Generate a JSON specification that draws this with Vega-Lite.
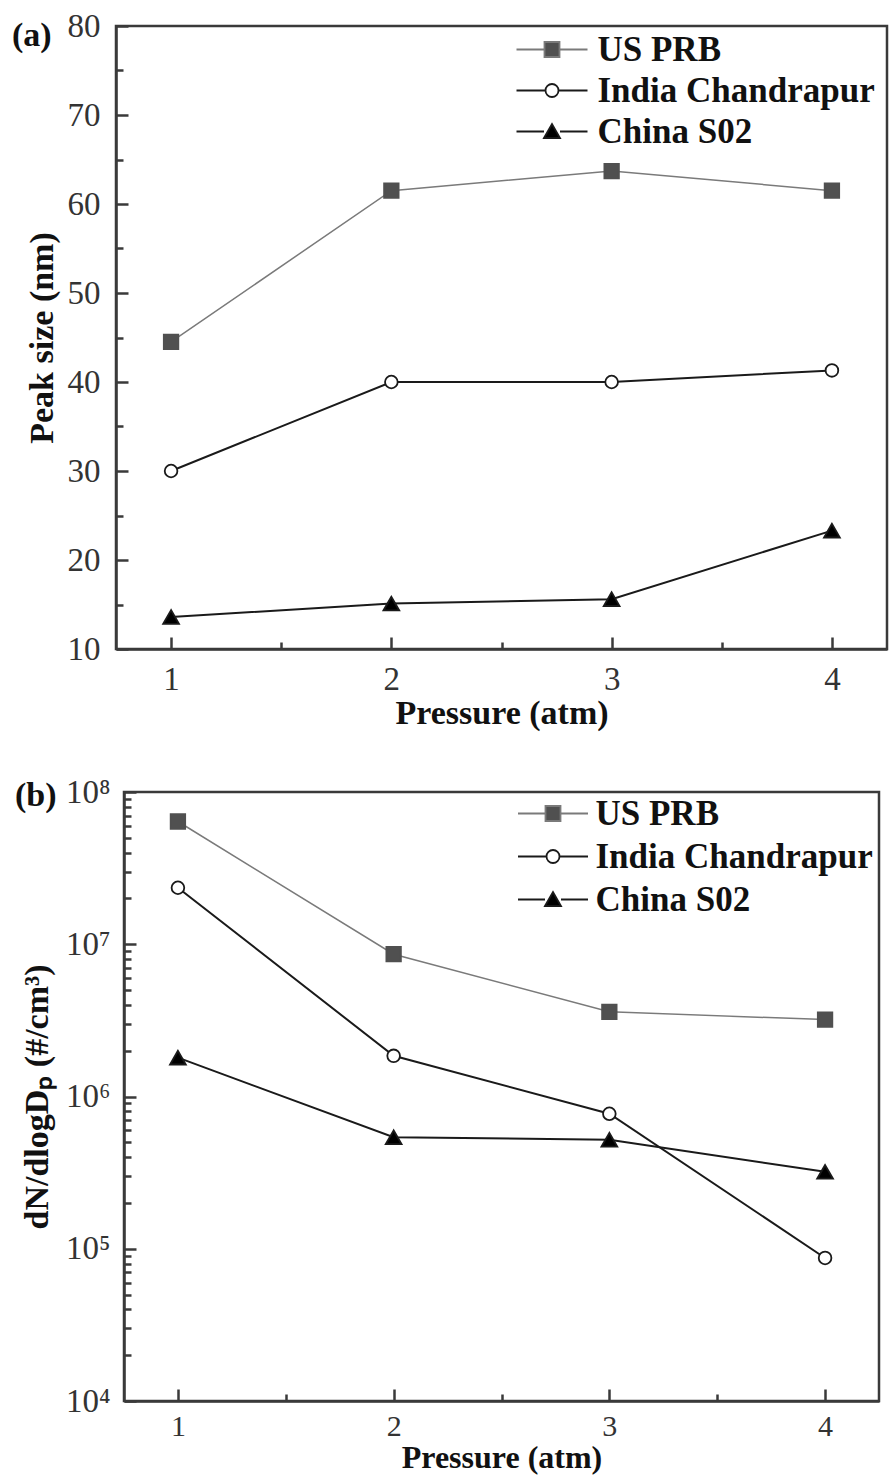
{
  "$schema": "https://vega.github.io/schema/vega-lite/v6.json",
  "background": "white",
  "padding": {"left": 10, "top": 8, "right": 0, "bottom": 0},
  "config": {
    "font": "Liberation Serif",
    "view": {"stroke": "#3a3a3a", "strokeWidth": 2.5},
    "axis": {
      "grid": false,
      "domainColor": "#3a3a3a",
      "domainWidth": 2.5,
      "tickColor": "#3a3a3a",
      "tickWidth": 2.5,
      "labelFont": "Liberation Serif",
      "labelFontSize": 33,
      "labelColor": "#333333",
      "labelFlush": false,
      "labelOverlap": false,
      "labelBound": false,
      "titleFont": "Liberation Serif",
      "titleFontSize": 34,
      "titleFontWeight": "bold",
      "titleColor": "#111111"
    },
    "legend": {
      "orient": "none", "padding": 0, "labelLimit": 0,
      "symbolSize": 400, "symbolOffset": 25.5, "symbolOpacity": 1, "symbolStrokeWidth": 1.8, "symbolFillColor": "black",
      "labelFont": "Liberation Serif", "labelFontSize": 35, "labelFontWeight": "bold", "labelColor": "#111111"
    },
    "title": {"font": "Liberation Serif", "fontSize": 34, "fontWeight": "bold", "color": "#111111"}
  },
  "datasets": {
    "peak": [
      {"series": "US PRB", "pressure": 1, "size": 44.5},
      {"series": "US PRB", "pressure": 2, "size": 61.5},
      {"series": "US PRB", "pressure": 3, "size": 63.7},
      {"series": "US PRB", "pressure": 4, "size": 61.5},
      {"series": "India Chandrapur", "pressure": 1, "size": 30.0},
      {"series": "India Chandrapur", "pressure": 2, "size": 40.0},
      {"series": "India Chandrapur", "pressure": 3, "size": 40.0},
      {"series": "India Chandrapur", "pressure": 4, "size": 41.3},
      {"series": "China S02", "pressure": 1, "size": 13.6},
      {"series": "China S02", "pressure": 2, "size": 15.1},
      {"series": "China S02", "pressure": 3, "size": 15.6},
      {"series": "China S02", "pressure": 4, "size": 23.3}
    ],
    "conc": [
      {"series": "US PRB", "pressure": 1, "conc": 64000000},
      {"series": "US PRB", "pressure": 2, "conc": 8600000},
      {"series": "US PRB", "pressure": 3, "conc": 3600000},
      {"series": "US PRB", "pressure": 4, "conc": 3200000},
      {"series": "India Chandrapur", "pressure": 1, "conc": 23500000},
      {"series": "India Chandrapur", "pressure": 2, "conc": 1850000},
      {"series": "India Chandrapur", "pressure": 3, "conc": 770000},
      {"series": "India Chandrapur", "pressure": 4, "conc": 87000},
      {"series": "China S02", "pressure": 1, "conc": 1800000},
      {"series": "China S02", "pressure": 2, "conc": 540000},
      {"series": "China S02", "pressure": 3, "conc": 520000},
      {"series": "China S02", "pressure": 4, "conc": 320000}
    ]
  },
  "spacing": 143,
  "center": true,
  "bounds": "flush",
  "resolve": {
    "scale": {"shape": "independent", "fill": "independent", "stroke": "independent"},
    "legend": {"shape": "independent", "fill": "independent", "stroke": "independent"}
  },
  "vconcat": [
    {
      "width": 771,
      "height": 623,
      "title": {"text": "(a)", "orient": "top", "anchor": "start", "frame": "group", "align": "left", "baseline": "alphabetic", "offset": 0, "dx": -104, "dy": 70},
      "data": {"name": "peak"},
      "layer": [
        {
          "mark": {"type": "point", "opacity": 0},
          "encoding": {
            "x": {"field": "pressure", "type": "quantitative", "scale": {"domain": [0.75, 4.25], "nice": false, "zero": false}, "axis": null},
            "y": {"field": "size", "type": "quantitative", "scale": {"domain": [10, 80], "nice": false, "zero": false}, "axis": null},
            "shape": {"field": "series", "type": "nominal",
                      "scale": {"domain": ["US PRB", "India Chandrapur", "China S02"], "range": ["M-3.55,0H-0.75M0.75,0H3.55M-0.75,-0.75H0.75V0.75H-0.75Z", "M-3.55,0H-0.65M0.65,0H3.55M-0.65,0A0.65,0.65 0 1,1 0.65,0A0.65,0.65 0 1,1 -0.65,0Z", "M-3.55,0H-0.8M0.8,0H3.55M-0.8,0.65L0,-0.75L0.8,0.65Z"]},
                      "legend": {"title": null, "legendX": 393, "legendY": 6, "labelOffset": 28, "rowPadding": 5}},
            "fill": {"field": "series", "type": "nominal",
                     "scale": {"domain": ["US PRB", "India Chandrapur", "China S02"], "range": ["#505050", "white", "black"]},
                     "legend": {"title": null, "legendX": 393, "legendY": 6, "labelOffset": 28, "rowPadding": 5}},
            "stroke": {"field": "series", "type": "nominal",
                       "scale": {"domain": ["US PRB", "India Chandrapur", "China S02"], "range": ["#7a7a7a", "#1a1a1a", "#1a1a1a"]},
                       "legend": {"title": null, "legendX": 393, "legendY": 6, "labelOffset": 28, "rowPadding": 5}}
          }
        },
        {
          "mark": {"type": "line"},
          "encoding": {
            "x": {"field": "pressure", "type": "quantitative",
                  "axis": {"orient": "bottom", "values": [1.5, 2.5, 3.5], "tickSize": -7, "labels": false, "domain": false, "title": null}},
            "y": {"field": "size", "type": "quantitative",
                  "axis": {"orient": "left", "values": [15, 25, 35, 45, 55, 65, 75], "tickSize": -7, "labels": false, "domain": false, "title": null}},
            "detail": {"field": "series"},
            "color": {"condition": {"test": "datum.series === 'US PRB'", "value": "#7a7a7a"}, "value": "#1a1a1a"},
            "strokeWidth": {"condition": {"test": "datum.series === 'US PRB'", "value": 1.5}, "value": 2}
          }
        },
        {
          "mark": {"type": "point", "opacity": 1, "strokeWidth": 1.8},
          "encoding": {
            "x": {"field": "pressure", "type": "quantitative",
                  "axis": {"orient": "bottom", "values": [1, 2, 3, 4], "tickSize": -12, "labelPadding": 26, "title": "Pressure (atm)", "titlePadding": 0}},
            "y": {"field": "size", "type": "quantitative",
                  "axis": {"orient": "left", "values": [10, 20, 30, 40, 50, 60, 70, 80], "tickSize": -12, "labelPadding": 28, "title": "Peak size (nm)", "titlePadding": 8}},
            "shape": {"condition": [{"test": "datum.series === 'US PRB'", "value": "square"}, {"test": "datum.series === 'India Chandrapur'", "value": "circle"}], "value": "triangle-up"},
            "fill": {"condition": [{"test": "datum.series === 'US PRB'", "value": "#505050"}, {"test": "datum.series === 'India Chandrapur'", "value": "white"}], "value": "black"},
            "stroke": {"condition": {"test": "datum.series === 'US PRB'", "value": "#505050"}, "value": "#1a1a1a"},
            "size": {"condition": [{"test": "datum.series === 'US PRB'", "value": 210}, {"test": "datum.series === 'India Chandrapur'", "value": 160}], "value": 250}
          }
        }
      ],
      "resolve": {"axis": {"x": "independent", "y": "independent"}}
    },
    {
      "width": 755,
      "height": 609,
      "title": {"text": "(b)", "orient": "top", "anchor": "start", "frame": "group", "align": "left", "baseline": "alphabetic", "offset": 0, "dx": -109, "dy": 64},
      "data": {"name": "conc"},
      "layer": [
        {
          "mark": {"type": "point", "opacity": 0},
          "encoding": {
            "x": {"field": "pressure", "type": "quantitative", "scale": {"domain": [0.75, 4.25], "nice": false, "zero": false}, "axis": null},
            "y": {"field": "conc", "type": "quantitative", "scale": {"type": "log", "domain": [10000, 100000000], "nice": false}, "axis": null},
            "shape": {"field": "series", "type": "nominal",
                      "scale": {"domain": ["US PRB", "India Chandrapur", "China S02"], "range": ["M-3.5,0H-0.75M0.75,0H3.5M-0.75,-0.75H0.75V0.75H-0.75Z", "M-3.5,0H-0.65M0.65,0H3.5M-0.65,0A0.65,0.65 0 1,1 0.65,0A0.65,0.65 0 1,1 -0.65,0Z", "M-3.5,0H-0.8M0.8,0H3.5M-0.8,0.65L0,-0.75L0.8,0.65Z"]},
                      "legend": {"title": null, "legendX": 386, "legendY": 4, "labelOffset": 25, "rowPadding": 7}},
            "fill": {"field": "series", "type": "nominal",
                     "scale": {"domain": ["US PRB", "India Chandrapur", "China S02"], "range": ["#505050", "white", "black"]},
                     "legend": {"title": null, "legendX": 386, "legendY": 4, "labelOffset": 25, "rowPadding": 7}},
            "stroke": {"field": "series", "type": "nominal",
                       "scale": {"domain": ["US PRB", "India Chandrapur", "China S02"], "range": ["#7a7a7a", "#1a1a1a", "#1a1a1a"]},
                       "legend": {"title": null, "legendX": 386, "legendY": 4, "labelOffset": 25, "rowPadding": 7}}
          }
        },
        {
          "mark": {"type": "line"},
          "encoding": {
            "x": {"field": "pressure", "type": "quantitative",
                  "axis": {"orient": "bottom", "values": [1.5, 2.5, 3.5], "tickSize": -7, "labels": false, "domain": false, "title": null}},
            "y": {"field": "conc", "type": "quantitative",
                  "axis": {"orient": "left", "values": [20000, 30000, 40000, 50000, 60000, 70000, 80000, 90000, 200000, 300000, 400000, 500000, 600000, 700000, 800000, 900000, 2000000, 3000000, 4000000, 5000000, 6000000, 7000000, 8000000, 9000000, 20000000, 30000000, 40000000, 50000000, 60000000, 70000000, 80000000, 90000000], "tickSize": -7, "labels": false, "domain": false, "title": null}},
            "detail": {"field": "series"},
            "color": {"condition": {"test": "datum.series === 'US PRB'", "value": "#7a7a7a"}, "value": "#1a1a1a"},
            "strokeWidth": {"condition": {"test": "datum.series === 'US PRB'", "value": 1.5}, "value": 2}
          }
        },
        {
          "mark": {"type": "point", "opacity": 1, "strokeWidth": 1.8},
          "encoding": {
            "x": {"field": "pressure", "type": "quantitative",
                  "axis": {"orient": "bottom", "values": [1, 2, 3, 4], "tickSize": -12, "labelPadding": 22, "labelFontSize": 30, "title": "Pressure (atm)", "titleFontSize": 32, "titlePadding": 1}},
            "y": {"field": "conc", "type": "quantitative",
                  "axis": {"orient": "left", "values": [10000, 100000, 1000000, 10000000, 100000000], "tickSize": -12, "labelPadding": 26,
                           "labelExpr": "'10' + (datum.value < 50000 ? '⁴' : datum.value < 500000 ? '⁵' : datum.value < 5000000 ? '⁶' : datum.value < 50000000 ? '⁷' : '⁸')",
                           "title": "dN/dlogDₚ (#/cm³)", "titlePadding": 11}},
            "shape": {"condition": [{"test": "datum.series === 'US PRB'", "value": "square"}, {"test": "datum.series === 'India Chandrapur'", "value": "circle"}], "value": "triangle-up"},
            "fill": {"condition": [{"test": "datum.series === 'US PRB'", "value": "#505050"}, {"test": "datum.series === 'India Chandrapur'", "value": "white"}], "value": "black"},
            "stroke": {"condition": {"test": "datum.series === 'US PRB'", "value": "#505050"}, "value": "#1a1a1a"},
            "size": {"condition": [{"test": "datum.series === 'US PRB'", "value": 210}, {"test": "datum.series === 'India Chandrapur'", "value": 160}], "value": 250}
          }
        }
      ],
      "resolve": {"axis": {"x": "independent", "y": "independent"}}
    }
  ]
}
